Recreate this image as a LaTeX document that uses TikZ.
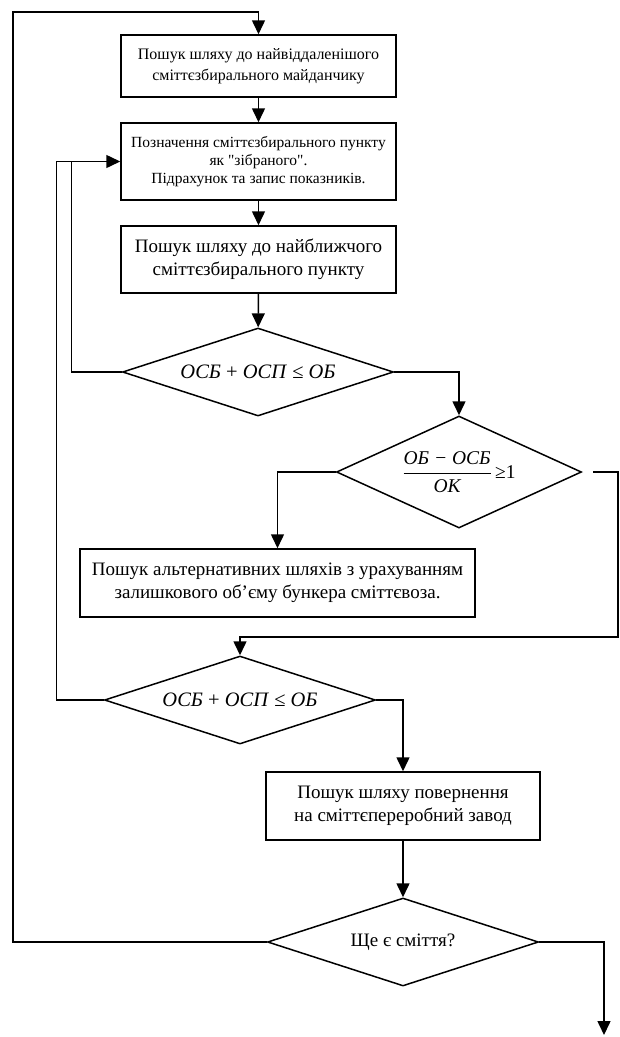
\documentclass[tikz,border=0pt]{standalone}
\usepackage{amsmath}
\usepackage{fontspec}
\setmainfont{Liberation Serif}
\usetikzlibrary{shapes.geometric,arrows.meta}

\begin{document}
\begin{tikzpicture}[x=1pt,y=-1pt,
    stepbox/.style={draw, line width=\linew, align=center, inner sep=4pt},
    decision/.style={draw, diamond, line width=\linew, inner sep=0pt,
        minimum width=271pt, minimum height=88pt, shape aspect=3},
    flow/.style={line width=\linew, -{Triangle[length=14pt,width=13pt]}},
    link/.style={line width=\linew}]

    % Define line and text properties
    \def\linew{1.5pt}
    \def\smalltext{\fontsize{15.5}{18}\selectfont}
    \def\midtext{\fontsize{16}{21}\selectfont}
    \def\bigtext{\fontsize{19}{23}\selectfont}
    \def\formtext{\fontsize{20.5}{24}\selectfont}

    \useasboundingbox (0,0) rectangle (620,1037);

    % Process boxes
    \node[stepbox, minimum width=275pt, minimum height=62pt, font=\midtext]
        (farthest) at (258.5,66) {Пошук шляху до найвіддаленішого\\сміттєзбирального майданчику};
    \node[stepbox, minimum width=275pt, minimum height=77pt, font=\smalltext]
        (mark) at (258.5,161.5) {Позначення сміттєзбирального пункту\\як \textquotedbl зібраного\textquotedbl.\\Підрахунок та запис показників.};
    \node[stepbox, minimum width=275pt, minimum height=67pt, font=\bigtext]
        (nearest) at (258.5,259.5) {Пошук шляху до найближчого\\сміттєзбирального пункту};
    \node[stepbox, minimum width=395pt, minimum height=68pt, font=\bigtext]
        (altpath) at (277.5,583) {Пошук альтернативних шляхів з урахуванням\\залишкового об’єму бункера сміттєвоза.};
    \node[stepbox, minimum width=274pt, minimum height=68pt, font=\bigtext]
        (returnpath) at (403,806) {Пошук шляху повернення\\на сміттєпереробний завод};

    % Decisions
    \node[decision, font=\formtext] (fitone) at (258,372)
        {\textit{ОСБ} + \textit{ОСП} ≤ \textit{ОБ}};
    \node[decision, minimum width=245pt, minimum height=112pt, shape aspect=2.2,
        font=\fontsize{19.5}{22}\selectfont] (ratio) at (459,472)
        {$\displaystyle\frac{\textit{ОБ − ОСБ}}{\textit{ОК}}$\,≥1};
    \node[decision, font=\formtext] (fittwo) at (240,700)
        {\textit{ОСБ} + \textit{ОСП} ≤ \textit{ОБ}};
    \node[decision, font=\bigtext] (moretrash) at (403,942) {Ще є сміття?};

    % Free ends of the loops
    \coordinate (topleft) at (13,12);
    \coordinate (rightturn) at (618,637);
    \coordinate (finish) at (604,1035);

    % Connectors
    \draw[flow] (farthest) -- (mark);
    \draw[flow] (mark) -- (nearest);
    \draw[flow] (nearest) -- (fitone);
    \draw[flow] (fitone.east) -| (ratio.north);
    \draw[link] (fitone.west) -| ([xshift=-49pt]mark.west);
    \draw[flow] (ratio.west) -| (altpath.north);
    \draw[flow] ([xshift=11pt]ratio.east) -| (rightturn) -| (fittwo.north);
    \draw[flow] (fittwo.west) -| ([xshift=-64pt]mark.west) -- (mark.west);
    \draw[flow] (fittwo.east) -| (returnpath.north);
    \draw[flow] (returnpath) -- (moretrash);
    \draw[flow] (moretrash.west) -| (topleft) -| (farthest.north);
    \draw[flow] (moretrash.east) -| (finish);
\end{tikzpicture}
\end{document}
